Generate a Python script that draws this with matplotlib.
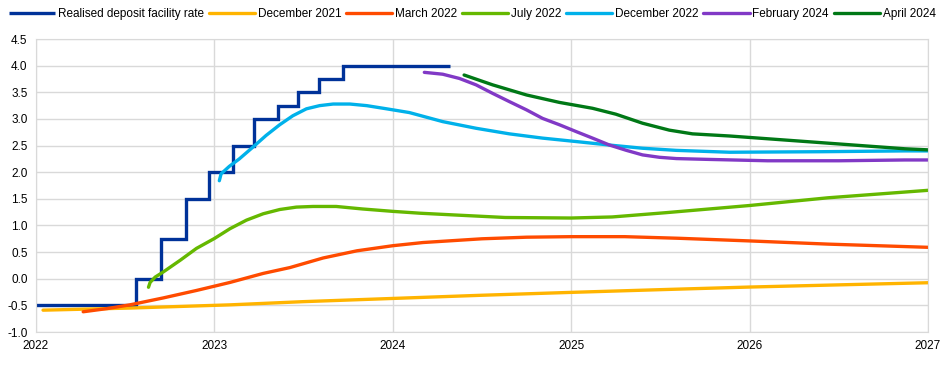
import numpy as np
import matplotlib
matplotlib.use("Agg")
import matplotlib.pyplot as plt

plt.rcParams['font.family'] = ['Liberation Sans', 'DejaVu Sans']

# realised deposit facility rate (step changes, decimal years)
dfr_x = [2022.0, 2022.56, 2022.70, 2022.84, 2022.97, 2023.105, 2023.22, 2023.355, 2023.47, 2023.585, 2023.72, 2024.32]
dfr_y = [-0.5, 0.0, 0.75, 1.5, 2.0, 2.5, 3.0, 3.25, 3.5, 3.75, 4.0, 4.0]

# market-implied paths
dec21_x = [2022.04, 2022.53, 2023.09, 2023.5, 2024.0, 2024.5, 2025.0, 2025.5, 2026.0, 2026.5, 2027.0]
dec21_y = [-0.59, -0.55, -0.49, -0.43, -0.37, -0.31, -0.256, -0.205, -0.156, -0.115, -0.075]

mar22_x = [2022.265, 2022.4, 2022.527, 2022.714, 2022.9, 2023.0, 2023.087, 2023.274, 2023.424, 2023.61, 2023.8,
           2024.0, 2024.17, 2024.5, 2024.75, 2025.0, 2025.3, 2025.6, 2026.0, 2026.44, 2027.0]
mar22_y = [-0.62, -0.56, -0.49, -0.36, -0.22, -0.14, -0.07, 0.1, 0.21, 0.39, 0.525,
           0.62, 0.68, 0.75, 0.78, 0.79, 0.79, 0.76, 0.71, 0.65, 0.59]

jul22_x = [2022.631, 2022.64, 2022.668, 2022.715, 2022.81, 2022.90, 2023.0, 2023.088, 2023.18, 2023.274, 2023.367,
           2023.46, 2023.553, 2023.683, 2023.83, 2024.0, 2024.154, 2024.33, 2024.63, 2025.0, 2025.23, 2025.53,
           2026.0, 2026.44, 2027.0]
jul22_y = [-0.16, -0.07, 0.03, 0.13, 0.35, 0.57, 0.755, 0.94, 1.10, 1.22, 1.30,
           1.345, 1.357, 1.357, 1.31, 1.265, 1.23, 1.20, 1.15, 1.14, 1.16, 1.24,
           1.375, 1.52, 1.66]

dec22_x = [2023.028, 2023.038, 2023.084, 2023.14, 2023.216, 2023.29, 2023.366, 2023.44, 2023.516, 2023.59, 2023.666,
           2023.76, 2023.854, 2023.966, 2024.093, 2024.28, 2024.467, 2024.654, 2024.84, 2025.03, 2025.215, 2025.4,
           2025.59, 2025.888, 2026.4, 2026.87, 2027.0]
dec22_y = [1.84, 1.97, 2.11, 2.25, 2.47, 2.69, 2.89, 3.06, 3.19, 3.25, 3.28,
           3.28, 3.25, 3.19, 3.12, 2.95, 2.825, 2.72, 2.64, 2.575, 2.51, 2.45,
           2.41, 2.375, 2.385, 2.40, 2.40]

feb24_x = [2024.177, 2024.28, 2024.374, 2024.467, 2024.56, 2024.654, 2024.75, 2024.84, 2024.935, 2025.03, 2025.12,
           2025.215, 2025.31, 2025.40, 2025.495, 2025.59, 2025.776, 2026.1, 2026.5, 2026.87, 2027.0]
feb24_y = [3.875, 3.84, 3.76, 3.64, 3.48, 3.325, 3.17, 3.01, 2.89, 2.76, 2.64,
           2.51, 2.41, 2.325, 2.28, 2.256, 2.24, 2.215, 2.215, 2.23, 2.23]

apr24_x = [2024.40, 2024.56, 2024.75, 2024.935, 2025.12, 2025.25, 2025.40, 2025.55, 2025.68, 2025.888, 2026.38,
           2026.87, 2027.0]
apr24_y = [3.825, 3.64, 3.45, 3.31, 3.2, 3.09, 2.92, 2.79, 2.72, 2.68, 2.56,
           2.44, 2.42]

series = [
    ("Realised deposit facility rate", None, None, "#003299"),
    ("December 2021", dec21_x, dec21_y, "#ffb400"),
    ("March 2022", mar22_x, mar22_y, "#ff4b00"),
    ("July 2022", jul22_x, jul22_y, "#65b800"),
    ("December 2022", dec22_x, dec22_y, "#00b1ea"),
    ("February 2024", feb24_x, feb24_y, "#8139c6"),
    ("April 2024", apr24_x, apr24_y, "#007816"),
]

fig = plt.figure(figsize=(9.45, 3.65), dpi=100)
ax = fig.add_axes([0.038, 0.0904, 0.944, 0.8026])

for label, xs, ys, col in series:
    if xs is None:
        ax.plot(dfr_x, dfr_y, drawstyle='steps-post', color=col, lw=2.4, label=label,
                solid_joinstyle='miter', solid_capstyle='butt')
    else:
        ax.plot(xs, ys, color=col, lw=2.4, label=label, solid_capstyle='round',
                solid_joinstyle='round')

ax.set_xlim(2022, 2027)
ax.set_ylim(-1.0, 4.5)
ax.set_xticks(range(2022, 2028))
ax.set_xticklabels([str(y) for y in range(2022, 2028)])
yt = np.arange(-1.0, 4.51, 0.5)
ax.set_yticks(yt)
ax.set_yticklabels([f"{v:.1f}" for v in yt])
ax.grid(True, color="#d9d9d9", lw=1)
ax.set_axisbelow(True)
for s in ax.spines.values():
    s.set_color("#d9d9d9")
ax.tick_params(length=0, labelsize=8.5, colors="#000000", pad=6)

fig.legend(loc='upper center', bbox_to_anchor=(0.5, 1.0), ncol=7, frameon=False,
           fontsize=8.5, handlelength=3.9, handletextpad=0.25, columnspacing=0.4,
           borderaxespad=0.3)

fig.savefig("out.png", dpi=100)
